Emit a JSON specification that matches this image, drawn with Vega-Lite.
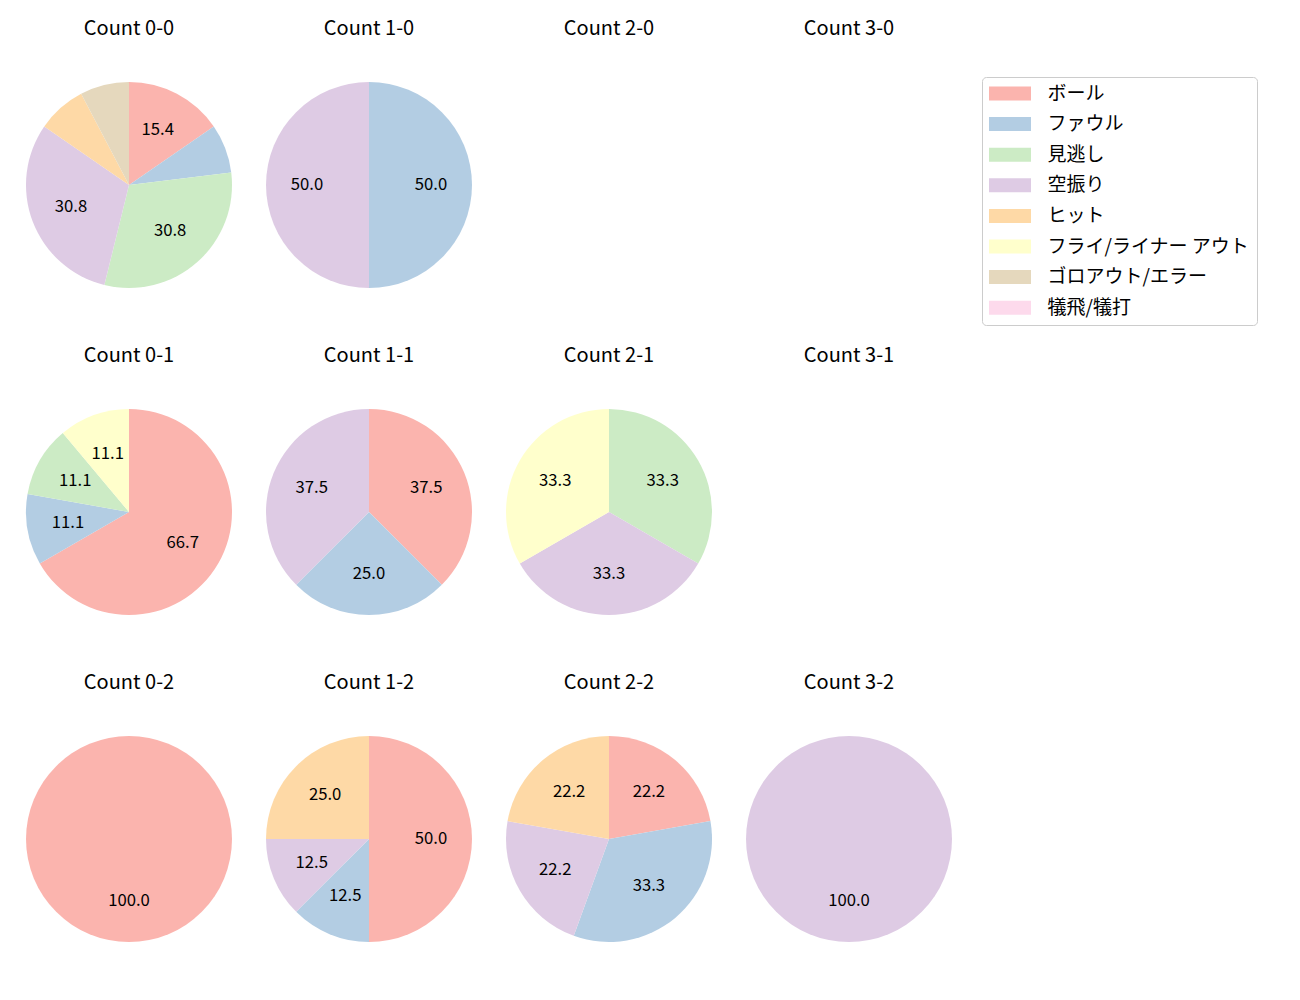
{
  "$schema": "https://vega.github.io/schema/vega-lite/v6.json",
  "padding": {"left": 26, "top": 19, "right": 0, "bottom": 0},
  "background": "white",
  "data": {
    "values": [
      {"count": "Count 0-0", "type": "ボール", "k": 0, "n": 2, "pct": 15.3846},
      {"count": "Count 0-0", "type": "ファウル", "k": 1, "n": 1, "pct": 7.6923},
      {"count": "Count 0-0", "type": "見逃し", "k": 2, "n": 4, "pct": 30.7692},
      {"count": "Count 0-0", "type": "空振り", "k": 3, "n": 4, "pct": 30.7692},
      {"count": "Count 0-0", "type": "ヒット", "k": 4, "n": 1, "pct": 7.6923},
      {"count": "Count 0-0", "type": "ゴロアウト/エラー", "k": 6, "n": 1, "pct": 7.6924},
      {"count": "Count 1-0", "type": "ファウル", "k": 1, "n": 1, "pct": 50},
      {"count": "Count 1-0", "type": "空振り", "k": 3, "n": 1, "pct": 50},
      {"count": "Count 2-0", "type": "ボール", "k": 0, "n": 0, "pct": 0},
      {"count": "Count 3-0", "type": "ボール", "k": 0, "n": 0, "pct": 0},
      {"count": "Count 0-1", "type": "ボール", "k": 0, "n": 6, "pct": 66.6667},
      {"count": "Count 0-1", "type": "ファウル", "k": 1, "n": 1, "pct": 11.1111},
      {"count": "Count 0-1", "type": "見逃し", "k": 2, "n": 1, "pct": 11.1111},
      {"count": "Count 0-1", "type": "フライ/ライナー アウト", "k": 5, "n": 1, "pct": 11.1111},
      {"count": "Count 1-1", "type": "ボール", "k": 0, "n": 3, "pct": 37.5},
      {"count": "Count 1-1", "type": "ファウル", "k": 1, "n": 2, "pct": 25},
      {"count": "Count 1-1", "type": "空振り", "k": 3, "n": 3, "pct": 37.5},
      {"count": "Count 2-1", "type": "見逃し", "k": 2, "n": 1, "pct": 33.3333},
      {"count": "Count 2-1", "type": "空振り", "k": 3, "n": 1, "pct": 33.3333},
      {"count": "Count 2-1", "type": "フライ/ライナー アウト", "k": 5, "n": 1, "pct": 33.3334},
      {"count": "Count 3-1", "type": "ボール", "k": 0, "n": 0, "pct": 0},
      {"count": "Count 0-2", "type": "ボール", "k": 0, "n": 1, "pct": 100},
      {"count": "Count 1-2", "type": "ボール", "k": 0, "n": 4, "pct": 50},
      {"count": "Count 1-2", "type": "ファウル", "k": 1, "n": 1, "pct": 12.5},
      {"count": "Count 1-2", "type": "空振り", "k": 3, "n": 1, "pct": 12.5},
      {"count": "Count 1-2", "type": "ヒット", "k": 4, "n": 2, "pct": 25},
      {"count": "Count 2-2", "type": "ボール", "k": 0, "n": 2, "pct": 22.2222},
      {"count": "Count 2-2", "type": "ファウル", "k": 1, "n": 3, "pct": 33.3333},
      {"count": "Count 2-2", "type": "空振り", "k": 3, "n": 2, "pct": 22.2222},
      {"count": "Count 2-2", "type": "ヒット", "k": 4, "n": 2, "pct": 22.2223},
      {"count": "Count 3-2", "type": "空振り", "k": 3, "n": 1, "pct": 100}
    ]
  },
  "facet": {
    "field": "count",
    "type": "nominal",
    "sort": ["Count 0-0", "Count 1-0", "Count 2-0", "Count 3-0", "Count 0-1", "Count 1-1", "Count 2-1", "Count 3-1", "Count 0-2", "Count 1-2", "Count 2-2", "Count 3-2"],
    "title": null,
    "header": {"labelFontSize": 20, "labelPadding": 43, "labelFont": "Noto Sans CJK JP", "labelColor": "black"}
  },
  "columns": 4,
  "spacing": {"column": 34, "row": 58},
  "spec": {
    "width": 206,
    "height": 206,
    "encoding": {
      "theta": {"field": "pct", "type": "quantitative", "stack": true, "scale": {"domain": [0, 100]}},
      "order": {"field": "k", "type": "quantitative"}
    },
    "layer": [
      {
        "mark": {"type": "arc", "outerRadius": 103},
        "encoding": {
          "color": {
            "field": "type",
            "type": "nominal",
            "scale": {
              "domain": ["ボール", "ファウル", "見逃し", "空振り", "ヒット", "フライ/ライナー アウト", "ゴロアウト/エラー", "犠飛/犠打"],
              "range": ["#fbb4ae", "#b3cde3", "#ccebc5", "#decbe4", "#fed9a6", "#ffffcc", "#e5d8bd", "#fddaec"]
            },
            "legend": {
              "title": null,
              "orient": "none",
              "legendX": 956,
              "legendY": -5,
              "symbolType": "M-3,-1H3V1H-3Z",
              "symbolSize": 196,
              "symbolStrokeWidth": 0,
              "symbolOffset": 11.5,
              "labelFontSize": 19,
              "labelFont": "Noto Sans CJK JP",
              "labelColor": "black",
              "labelOffset": 28,
              "labelLimit": 400,
              "rowPadding": 10.6,
              "padding": 7,
              "strokeColor": "#cccccc",
              "cornerRadius": 4,
              "fillColor": "white"
            }
          }
        }
      },
      {
        "mark": {"type": "text", "radius": 62, "fontSize": 16.7, "font": "Noto Sans CJK JP", "color": "black"},
        "encoding": {
          "text": {"condition": {"test": "datum.pct >= 10", "field": "pct", "type": "quantitative", "format": ".1f"}, "value": ""}
        }
      }
    ]
  },
  "config": {"view": {"stroke": null}}
}
